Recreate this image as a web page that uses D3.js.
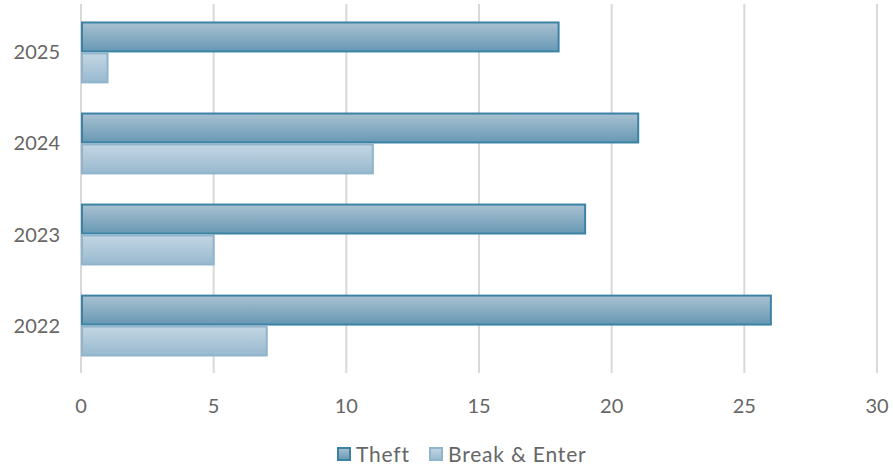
<!DOCTYPE html>
<html><head><meta charset="utf-8">
<script src="https://cdn.jsdelivr.net/npm/d3@7"></script>
<style>body{margin:0;background:#fff}svg{display:block}text{font-family:Lato,"Open Sans",sans-serif}</style>
</head><body><svg id="c" width="893" height="468"></svg>
<script>
const years = ["2025","2024","2023","2022"];
const seriesNames = ["Theft","Break & Enter"];
const theft = [18,21,19,26];
const breakEnter = [1,11,5,7];
const xTicks = [0,5,10,15,20,25,30];

const svg = d3.select("#c");
const m = {l:81, r:16, t:6, b:96};
const W = 893, H = 468;
const x = d3.scaleLinear().domain([0,30]).range([m.l, W-m.r]);
const y = d3.scaleBand().domain(years).range([m.t, H-m.b]).paddingInner(0.32).paddingOuter(0.17);
const sub = d3.scaleBand().domain(seriesNames).range([0, y.bandwidth()]);

const defs = svg.append("defs");
function grad(id, c1, c2){
  const g = defs.append("linearGradient").attr("id",id).attr("x1",0).attr("y1",0).attr("x2",0).attr("y2",1);
  g.append("stop").attr("offset","0%").attr("stop-color",c1);
  g.append("stop").attr("offset","100%").attr("stop-color",c2);
}
grad("gT","#a9c1d1","#6798b4");
grad("gB","#c3d6e3","#98b9cf");
const fills = {"Theft":"url(#gT)","Break & Enter":"url(#gB)"};
const strokes = {"Theft":"#3b82a5","Break & Enter":"#90b4cc"};

// grid
svg.append("g").selectAll("line").data(xTicks).join("line")
  .attr("x1",d=>x(d)).attr("x2",d=>x(d)).attr("y1",4).attr("y2",373)
  .attr("stroke","#d9d9d9").attr("stroke-width",2);

// bars
const data = years.map((yr,i)=>({yr, vals:[{s:"Theft",v:theft[i]},{s:"Break & Enter",v:breakEnter[i]}]}));
const g = svg.append("g").selectAll("g").data(data).join("g").attr("transform",d=>`translate(0,${y(d.yr)})`);
g.selectAll("rect").data(d=>d.vals).join("rect")
  .attr("x",x(0)+1).attr("y",d=>sub(d.s)+1)
  .attr("width",d=>x(d.v)-x(0)-1).attr("height",sub.bandwidth()-2)
  .attr("fill",d=>fills[d.s]).attr("stroke",d=>strokes[d.s]).attr("stroke-width",2);

// y labels
svg.append("g").selectAll("text").data(years).join("text")
  .attr("x",60).attr("y",d=>y(d)+y.bandwidth()/2+7).attr("text-anchor","end")
  .attr("fill","#666").attr("font-size",20).text(d=>d);

// x labels
svg.append("g").selectAll("text").data(xTicks).join("text")
  .attr("x",d=>x(d)).attr("y",413).attr("text-anchor","middle")
  .attr("fill","#666").attr("font-size",20).text(d=>d);

// legend
const leg = svg.append("g");
const legX = [337, 429];
seriesNames.forEach((s,i)=>{
  leg.append("rect").attr("x",legX[i]+1).attr("y",448).attr("width",12).attr("height",12)
    .attr("fill",fills[s]).attr("stroke",strokes[s]).attr("stroke-width",2);
  leg.append("text").attr("x",legX[i]+19).attr("y",462).attr("fill","#666").attr("font-size",21)
    .attr("letter-spacing",0.8).text(s);
});
</script></body></html>
